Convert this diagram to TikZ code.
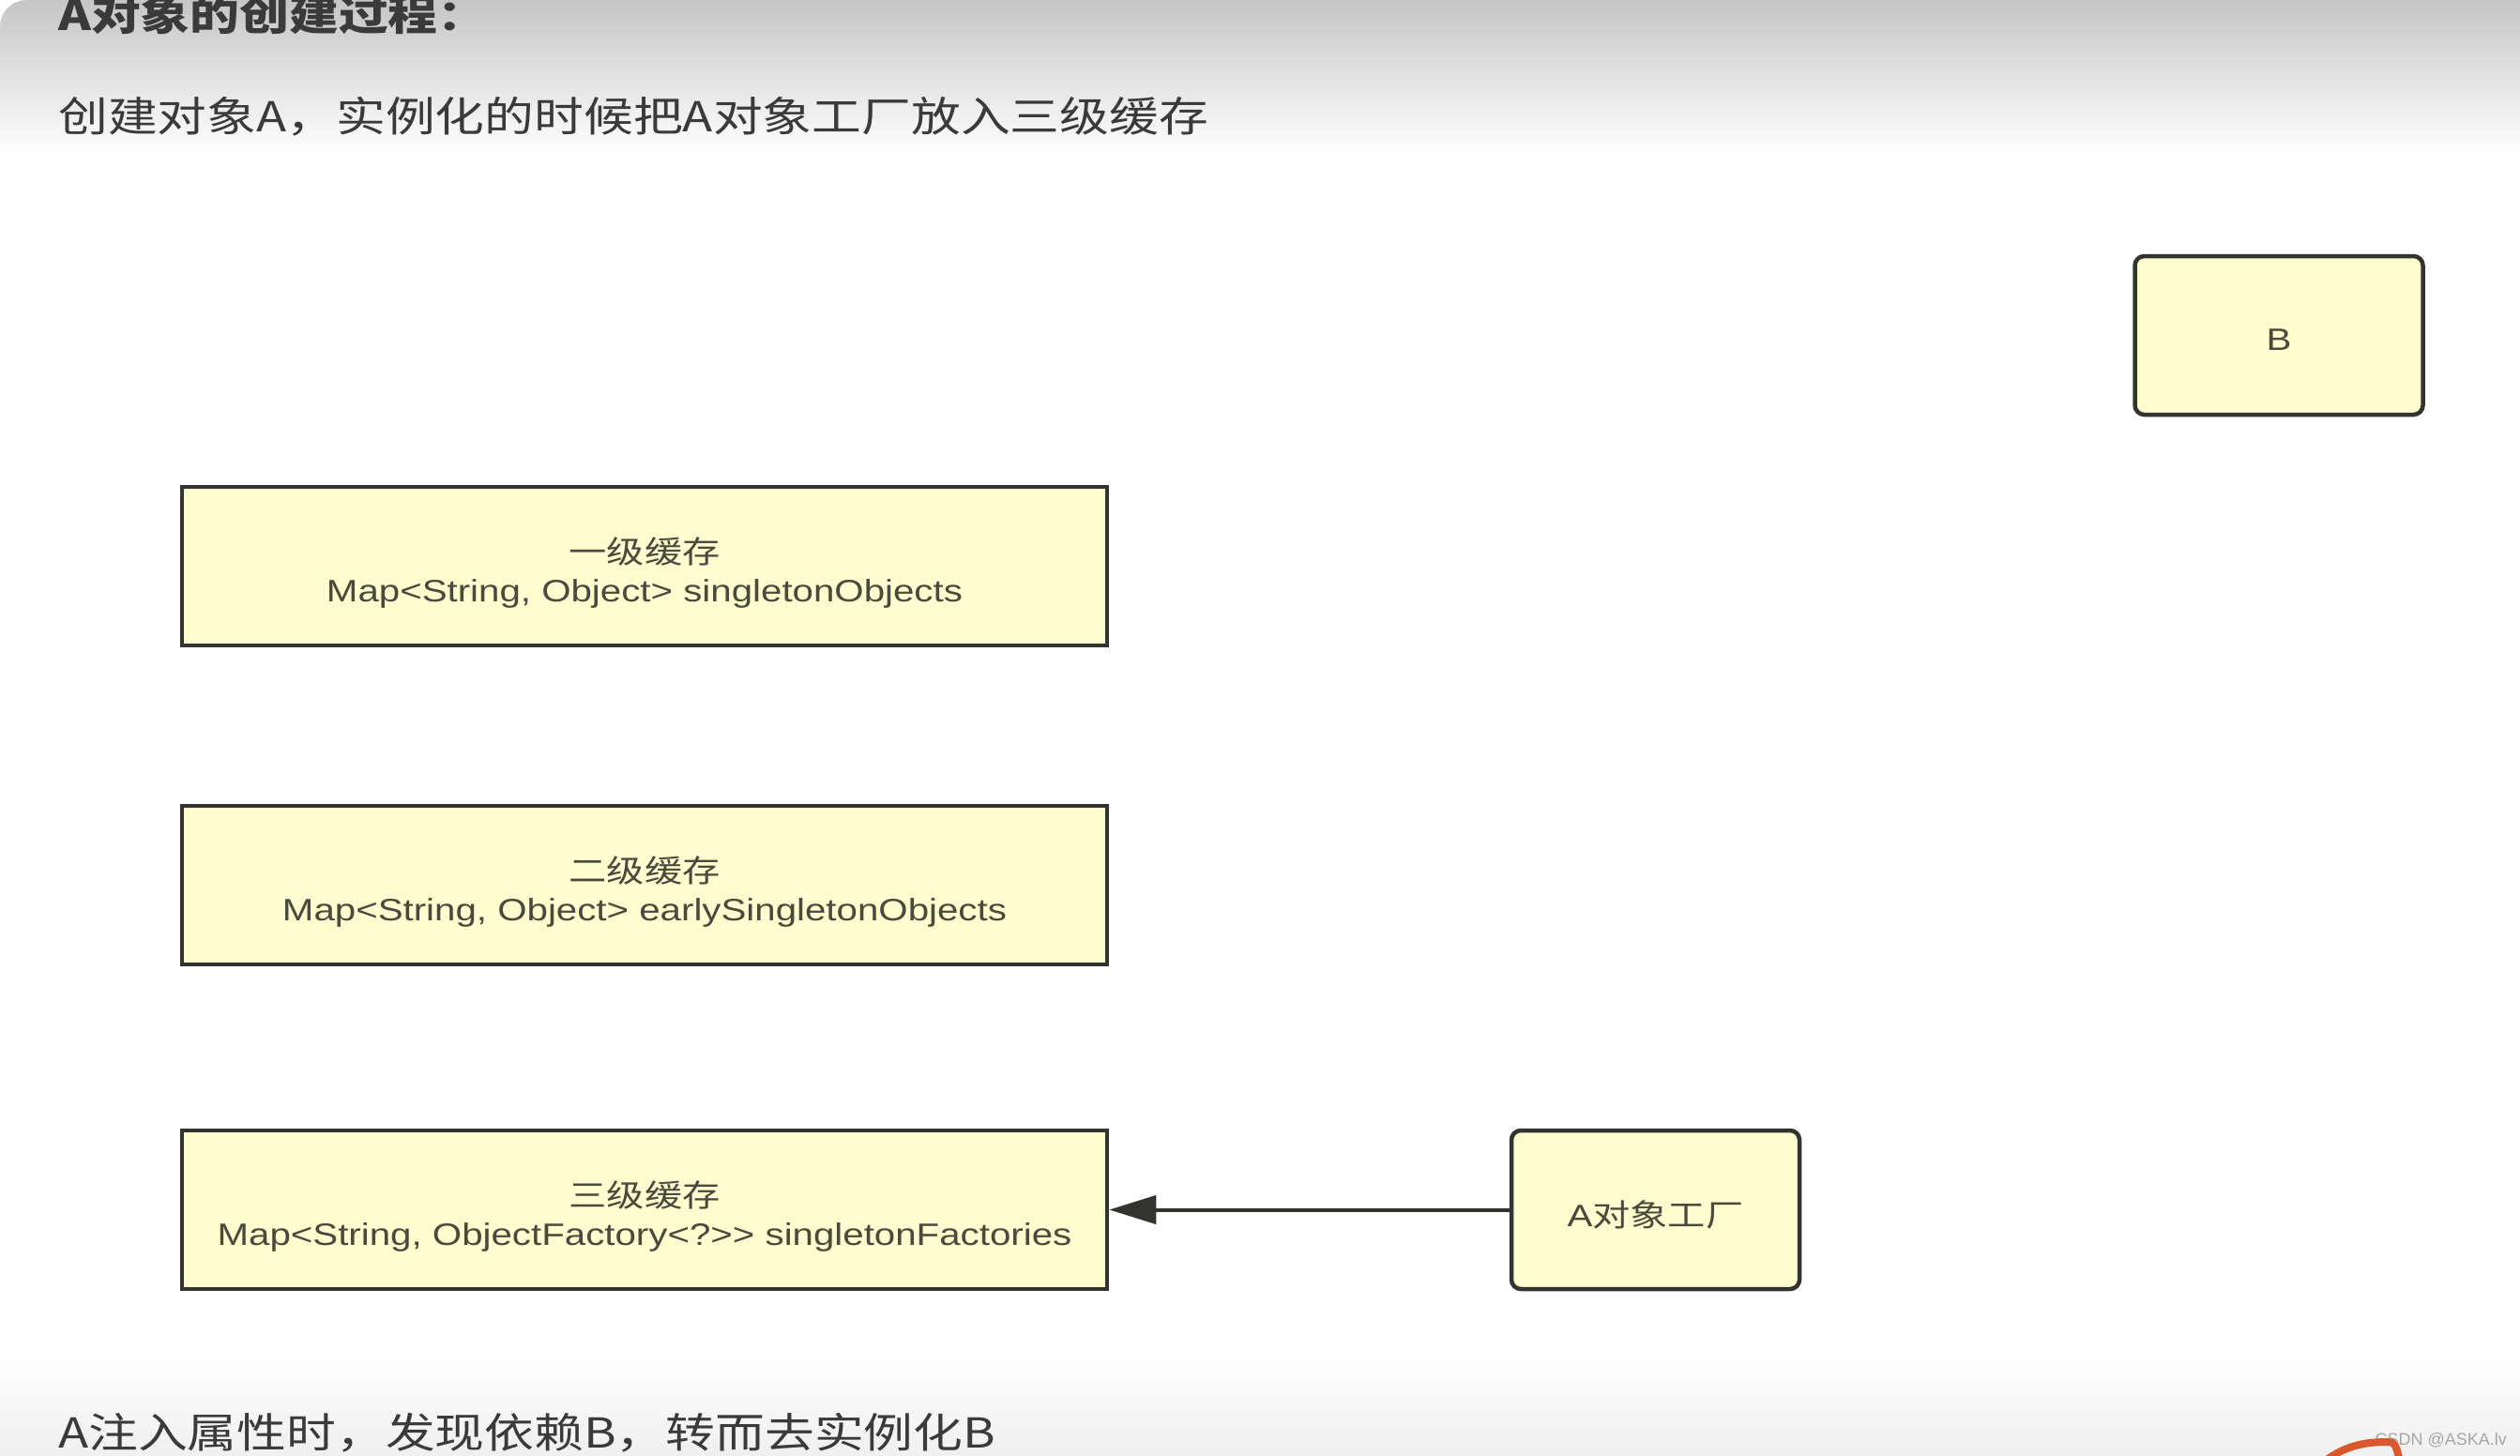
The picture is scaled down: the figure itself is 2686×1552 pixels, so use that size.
\documentclass[tikz,border=0pt]{standalone}
\usepackage{fontspec}
\setmainfont{Liberation Sans}
\newfontfamily\boxlat[FakeStretch=1.22]{Liberation Sans}
\newfontfamily\boxcjk[FakeStretch=1.22]{Noto Sans CJK SC}
\newfontfamily\headcjk[FakeStretch=1.2]{Noto Sans CJK SC}
\usetikzlibrary{arrows.meta}
\definecolor{boxfill}{HTML}{FDFDD0}
\definecolor{boxline}{HTML}{333330}
\definecolor{boxtext}{HTML}{4A4A3C}
\definecolor{headtext}{HTML}{3A3A3A}
\definecolor{orangemark}{HTML}{D9582E}
\begin{document}
\begin{tikzpicture}[x=1pt,y=-1pt,
  cache/.style={draw=boxline, fill=boxfill, line width=4.5pt, minimum width=986pt,
    minimum height=169pt, inner sep=0pt},
  obj/.style={cache, minimum width=307pt, rounded corners=10pt},
  boxlabel/.style={inner sep=0pt, align=center, text=boxtext,
    font=\boxlat\fontsize{33}{41}\selectfont},
  head/.style={anchor=base west, inner sep=0pt, text=headtext,
    font=\headcjk\fontsize{44}{50}\selectfont},
  link/.style={line width=4pt, draw=boxline, -{Triangle[length=50pt,width=30pt]}}]
\useasboundingbox (0,0) rectangle (2686,1552);
\fill[white] (0,0) rectangle (2686,1552);
\shade[top color=gray!45, bottom color=white] (0,0) rectangle (2686,165);
\fill[white] (0,0) -- (0,28) arc[start angle=180, end angle=90, radius=28pt] -- cycle;
\shade[top color=white, bottom color=gray!12] (0,1440) rectangle (2686,1552);

\node[head, font=\headcjk\bfseries\fontsize{44}{50}\selectfont] (title) at (62,33) {A对象的创建过程：};
\node[head] (sub) at (62,141) {创建对象A，实例化的时候把A对象工厂放入三级缓存};

\node[cache] (c1) at (687,603.5) {};
\node[cache] (c2) at (687,943.5) {};
\node[cache] (c3) at (687,1289.5) {};
\node[obj] (b) at (2429,357.5) {};
\node[obj] (fac) at (1764.5,1289.5) {};
\node[boxlabel] (t1) at ([yshift=-7pt]c1.center) {{\boxcjk 一级缓存}\\Map<String, Object> singletonObjects};
\node[boxlabel] (t2) at ([yshift=-7pt]c2.center) {{\boxcjk 二级缓存}\\Map<String, Object> earlySingletonObjects};
\node[boxlabel] (t3) at ([yshift=-7pt]c3.center) {{\boxcjk 三级缓存}\\Map<String, ObjectFactory<?>> singletonFactories};
\node[boxlabel] (tb) at ([yshift=-5pt]b.center) {B};
\node[boxlabel] (tf) at ([yshift=-5pt]fac.center) {A{\boxcjk 对象工厂}};
\draw[link] (fac) -- (c3);

\node[head] (bottom) at (62,1543) {A注入属性时，发现依赖B，转而去实例化B};
\node[anchor=base east, inner sep=0pt, text=gray!70, font=\fontsize{18}{20}\selectfont] (wm) at (2672,1540) {CSDN @ASKA.lv};
\draw[draw=orangemark, line width=8pt, line cap=round] (2477,1558) .. controls (2500,1541) and (2520,1537) .. (2545,1537) .. controls (2553,1538) .. (2558,1558);
\end{tikzpicture}
\end{document}
